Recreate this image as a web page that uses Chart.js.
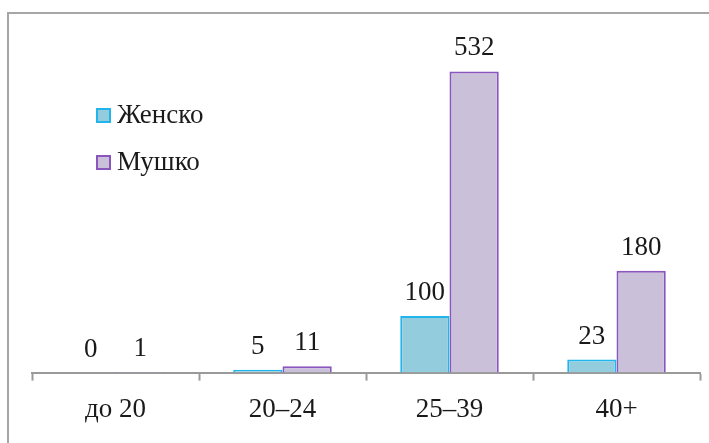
<!DOCTYPE html>
<html>
<head>
<meta charset="utf-8">
<script src="https://cdn.jsdelivr.net/npm/chart.js@4"></script>
<style>
  html, body { margin: 0; padding: 0; background: #fff; }
  #wrap { width: 709px; height: 443px; position: relative; }
</style>
</head>
<body>
<div id="wrap"><canvas id="chart" width="709" height="443"></canvas></div>
<script>
const kategorije = ["до 20", "20–24", "25–39", "40+"];
const zensko = [0, 5, 100, 23];
const musko = [1, 11, 532, 180];

const SERIF = "'Liberation Serif', 'Times New Roman', serif";

// okvir oko grafikona
const okvir = {
    id: "okvir",
    beforeDraw(chart) {
        const c = chart.ctx;
        c.save();
        c.fillStyle = "#fff";
        c.fillRect(0, 0, chart.width, chart.height);
        c.strokeStyle = "#a6a6a6";
        c.lineWidth = 2;
        c.beginPath();
        c.moveTo(8, chart.height + 2);
        c.lineTo(8, 13);
        c.lineTo(chart.width + 2, 13);
        c.stroke();
        c.restore();
    }
};

// vrednosti iznad stubova
const vrednosti = {
    id: "vrednosti",
    afterDatasetsDraw(chart) {
        const c = chart.ctx;
        c.save();
        c.font = "27px " + SERIF;
        c.fillStyle = "#1a1a1a";
        c.textAlign = "center";
        c.textBaseline = "alphabetic";
        chart.data.datasets.forEach((ds, i) => {
            chart.getDatasetMeta(i).data.forEach((bar, j) => {
                c.fillText(String(ds.data[j]), bar.x, bar.y - 16);
            });
        });
        c.restore();
    }
};

// legenda unutar grafikona
const legenda = {
    id: "legenda",
    afterDraw(chart) {
        const c = chart.ctx;
        c.save();
        c.font = "27px " + SERIF;
        c.textBaseline = "middle";
        chart.data.datasets.forEach((ds, i) => {
            const y = 115 + i * 47;
            c.fillStyle = ds.backgroundColor;
            c.strokeStyle = ds.borderColor;
            c.lineWidth = 2;
            c.fillRect(97, y - 6, 13, 13);
            c.strokeRect(97, y - 6, 13, 13);
            c.fillStyle = "#1a1a1a";
            c.fillText(ds.label, 117, y + 1);
        });
        c.restore();
    }
};

new Chart(document.getElementById("chart"), {
    type: "bar",
    data: {
        labels: kategorije,
        datasets: [
            {
                label: "Женско",
                data: zensko,
                backgroundColor: "#93cddd",
                borderColor: "#22b5ec",
                borderWidth: 2,
                borderSkipped: "bottom"
            },
            {
                label: "Мушко",
                data: musko,
                backgroundColor: "#cbc0da",
                borderColor: "#8a55bd",
                borderWidth: 2,
                borderSkipped: "bottom"
            }
        ]
    },
    options: {
        responsive: false,
        animation: false,
        layout: { padding: { left: 32, right: 9, top: 33, bottom: 4 } },
        datasets: { bar: { categoryPercentage: 0.59, barPercentage: 1 } },
        scales: {
            x: {
                grid: {
                    offset: true,
                    drawOnChartArea: false,
                    drawTicks: true,
                    tickLength: 8,
                    tickColor: "#9a9a9a",
                    tickWidth: 2
                },
                border: { display: true, color: "#9a9a9a", width: 2 },
                ticks: {
                    color: "#1a1a1a",
                    font: { family: SERIF, size: 27 },
                    padding: 13
                }
            },
            y: {
                display: false,
                min: 0,
                max: 600
            }
        },
        plugins: {
            legend: { display: false },
            tooltip: { enabled: false }
        }
    },
    plugins: [okvir, vrednosti, legenda]
});
</script>
</body>
</html>
